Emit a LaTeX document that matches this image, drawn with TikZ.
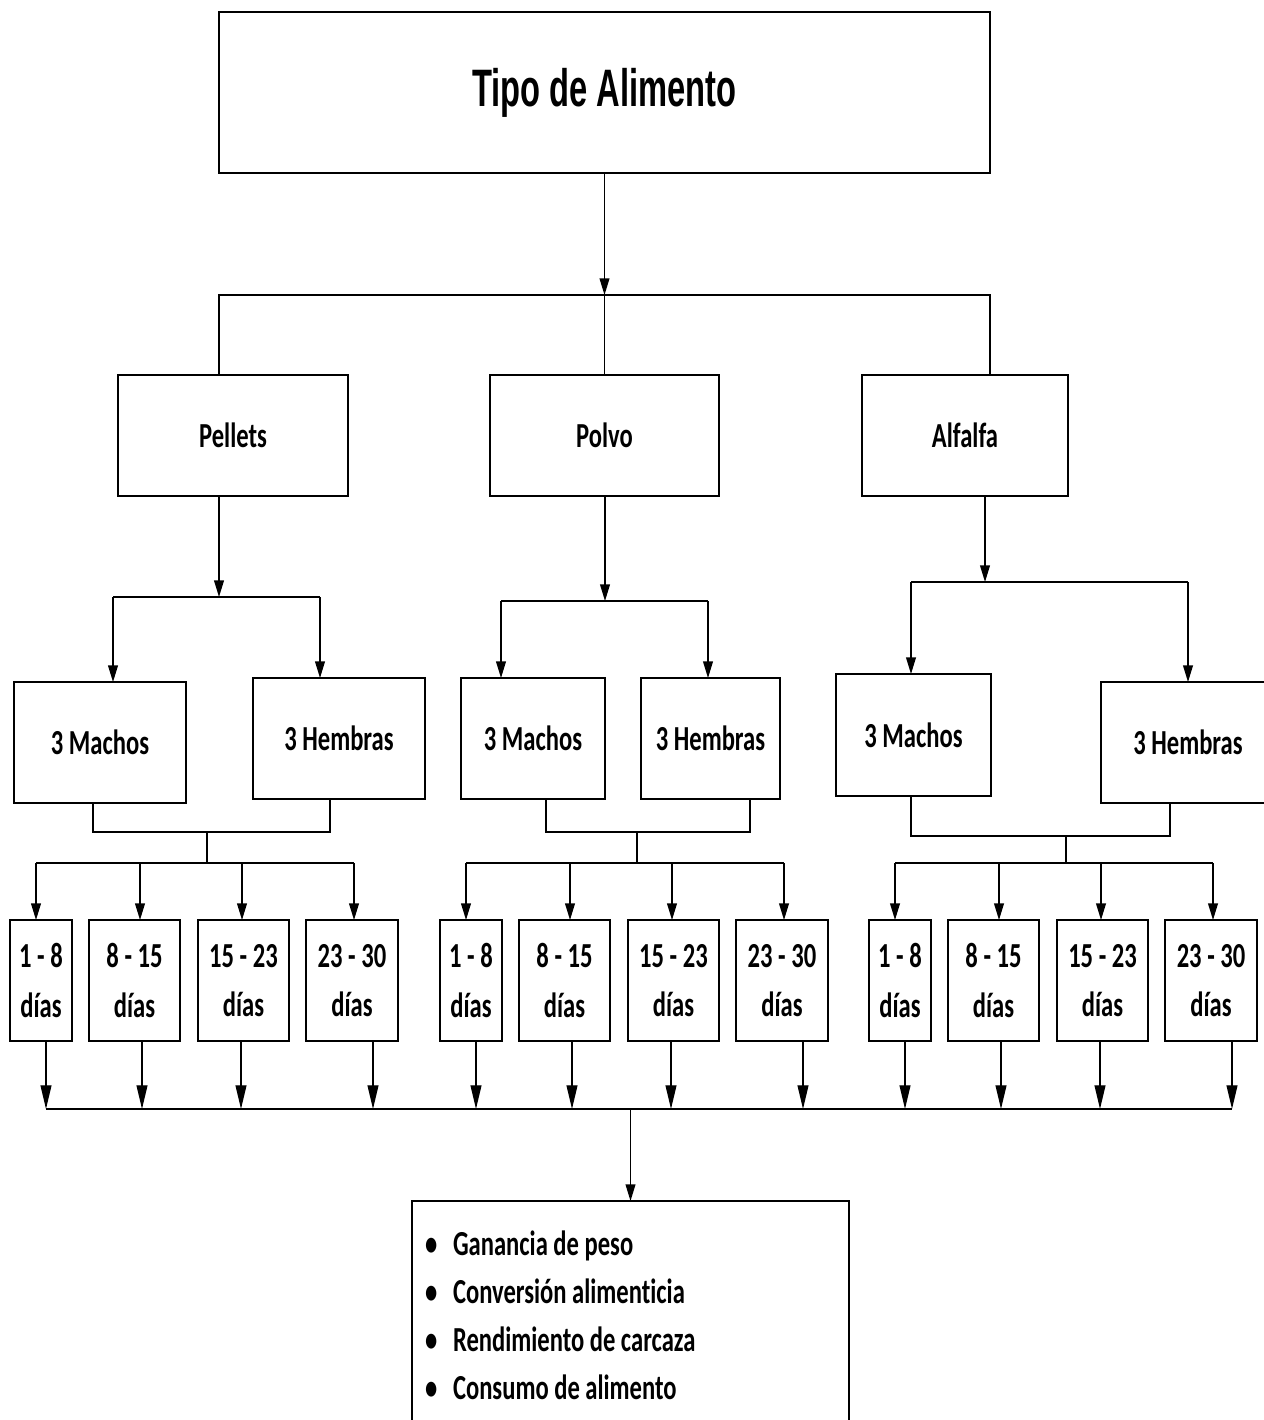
\documentclass[tikz,border=0pt]{standalone}
\usepackage{fontspec}
\newfontfamily\boxfont{Carlito}[FakeStretch=0.7, Ligatures=CommonOff]
\newfontfamily\titlefont{Liberation Sans}[FakeStretch=0.62]
\usetikzlibrary{arrows.meta}

\begin{document}
\begin{tikzpicture}[x=0.02cm, y=-0.02cm,
  box/.style={draw, fill=white, line width=1.1pt, inner sep=0pt, outer sep=0pt, align=center,
    font=\boxfont\bfseries\fontsize{20}{28}\selectfont},
  daybox/.style={box, minimum height=2.42cm},
  conn/.style={line width=0.8pt},
  arr/.style={conn, -{Triangle[length=9.5pt, width=5.6pt]}},
  arrlong/.style={conn, -{Triangle[length=13.5pt, width=6.2pt]}},
  bus/.style={line width=1.6pt}]

\useasboundingbox (0,0) rectangle (1264,1420);
\clip (0,0) rectangle (1264,1420);

\node[box, minimum width=15.42cm, minimum height=3.22cm,
  font=\titlefont\bfseries\fontsize{30}{36}\selectfont] (title) at (604.5,92.5) {Tipo de Alimento};

\node[box, minimum width=4.6cm, minimum height=2.42cm] (f-pe) at (233,435.5) {Pellets};
\node[box, minimum width=4.58cm, minimum height=2.42cm] (f-po) at (604.5,435.5) {Polvo};
\node[box, minimum width=4.12cm, minimum height=2.42cm] (f-al) at (965,435.5) {Alfalfa};

\node[box, minimum width=3.44cm, minimum height=2.42cm] (m-pe) at (100,742.5) {3 Machos};
\node[box, minimum width=3.44cm, minimum height=2.42cm] (h-pe) at (339,738.5) {3 Hembras};
\node[box, minimum width=2.88cm, minimum height=2.42cm] (m-po) at (533,738.5) {3 Machos};
\node[box, minimum width=2.78cm, minimum height=2.42cm] (h-po) at (710.5,738.5) {3 Hembras};
\node[box, minimum width=3.1cm, minimum height=2.44cm] (m-al) at (913.5,735) {3 Machos};
\node[box, minimum width=3.48cm, minimum height=2.42cm] (h-al) at (1188,742.5) {3 Hembras};

\node[box, anchor=north, minimum height=4.56cm, text width=8.22cm, align=flush left, inner xsep=0.26cm,
  font=\boxfont\bfseries\fontsize{20}{27.3}\selectfont] (res) at (630.5,1201)
  {\makebox[0.56cm][l]{\textbullet}Ganancia de peso\\
   \makebox[0.56cm][l]{\textbullet}Conversión alimenticia\\
   \makebox[0.56cm][l]{\textbullet}Rendimiento de carcaza\\
   \makebox[0.56cm][l]{\textbullet}Consumo de alimento};

\coordinate (t-pe) at (219,295);
\coordinate (t-po) at (604.5,295);
\coordinate (t-al) at (990,295);
\draw[arr] (title.south) -- (t-po);
\draw[conn] (t-pe |- f-pe.north) -- (t-pe) -- (t-al) -- (t-al |- f-al.north);
\draw[conn] (t-po) -- (f-po.north);

\foreach \grp/\sx/\sy/\ax/\bx in {pe/219/597/113/320, po/605/601/501/708, al/985/582/911/1188} {
  \coordinate (s-\grp) at (\sx,\sy);
  \coordinate (a-\grp) at (\ax,\sy);
  \coordinate (b-\grp) at (\bx,\sy);
  \draw[arr] (s-\grp |- f-\grp.south) -- (s-\grp);
  \draw[conn] (a-\grp) -- (b-\grp);
  \draw[arr] (a-\grp) -- (a-\grp |- m-\grp.north);
  \draw[arr] (b-\grp) -- (b-\grp |- h-\grp.north);
}

\foreach \grp/\gx/\mx/\hx/\my in {pe/10/93/330/832, po/440/546/750/832, al/869/911/1170/836} {
  \foreach \i/\dx/\w/\ix/\ox/\lab in {1/31/1.24/26/36/{1 - 8}, 2/124.5/1.82/130/132/{8 - 15},
      3/233.5/1.82/232/231/{15 - 23}, 4/342/1.84/344/363/{23 - 30}} {
    \node[daybox, minimum width=\w cm] (d-\grp-\i) at ({\gx+\dx},980.5) {\lab\\días};
    \coordinate (i-\grp-\i) at ({\gx+\ix},863);
    \coordinate (o-\grp-\i) at ({\gx+\ox},1109);
    \draw[arr] (i-\grp-\i) -- (i-\grp-\i |- d-\grp-\i.north);
    \draw[arrlong] (o-\grp-\i |- d-\grp-\i.south) -- (o-\grp-\i);
  }
  \coordinate (u-\grp) at (\mx,\my);
  \coordinate (v-\grp) at (\hx,\my);
  \coordinate (c-\grp) at ({\gx+197},\my);
  \coordinate (e-\grp) at ({\gx+197},863);
  \draw[conn] (u-\grp |- m-\grp.south) -- (u-\grp) -- (v-\grp) -- (v-\grp |- h-\grp.south);
  \draw[conn] (c-\grp) -- (e-\grp);
  \draw[conn] (i-\grp-1) -- (i-\grp-4);
}

\coordinate (bl) at (46,1109);
\coordinate (br) at (1232,1109);
\coordinate (bc) at (630.5,1109);
\draw[bus] (bl) -- (br);
\draw[arr] (bc) -- (res.north);

\end{tikzpicture}
\end{document}
